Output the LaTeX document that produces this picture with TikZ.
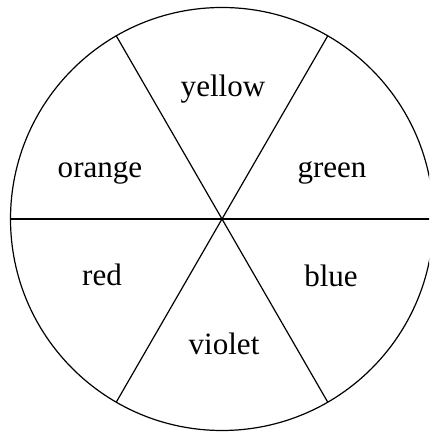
\documentclass[tikz,border=0pt]{standalone}
\usepackage{fontspec}
\setmainfont{Liberation Serif}
\usetikzlibrary{positioning, calc}

\begin{document}
\begin{tikzpicture}[x=0.75pt, y=0.75pt, line width=0.9pt,
    lbl/.style={anchor=base, inner sep=0pt, font=\fontsize{23.3}{28}\selectfont}]
          \useasboundingbox (0,0) rectangle (429,434);
          \clip (0,0) rectangle (429,434);

          \coordinate (c) at (222,215);
          \foreach \a in {0,60,...,300}
            \coordinate (p\a) at ($(c)+(\a:211.5)$);

          \draw (c) circle (211.5);
          \foreach \a in {0,60,...,300}
            \draw (c) -- (p\a);

          \node[lbl] (yellow) at (223,337) {yellow};
          \node[lbl] (orange) at (100,256) {orange};
          \node[lbl] (green) at (332,256) {green};
          \node[lbl] (red) at (102,148) {red};
          \node[lbl] (blue) at (331,147) {blue};
          \node[lbl] (violet) at (224,79) {violet};
        \end{tikzpicture}
\end{document}
